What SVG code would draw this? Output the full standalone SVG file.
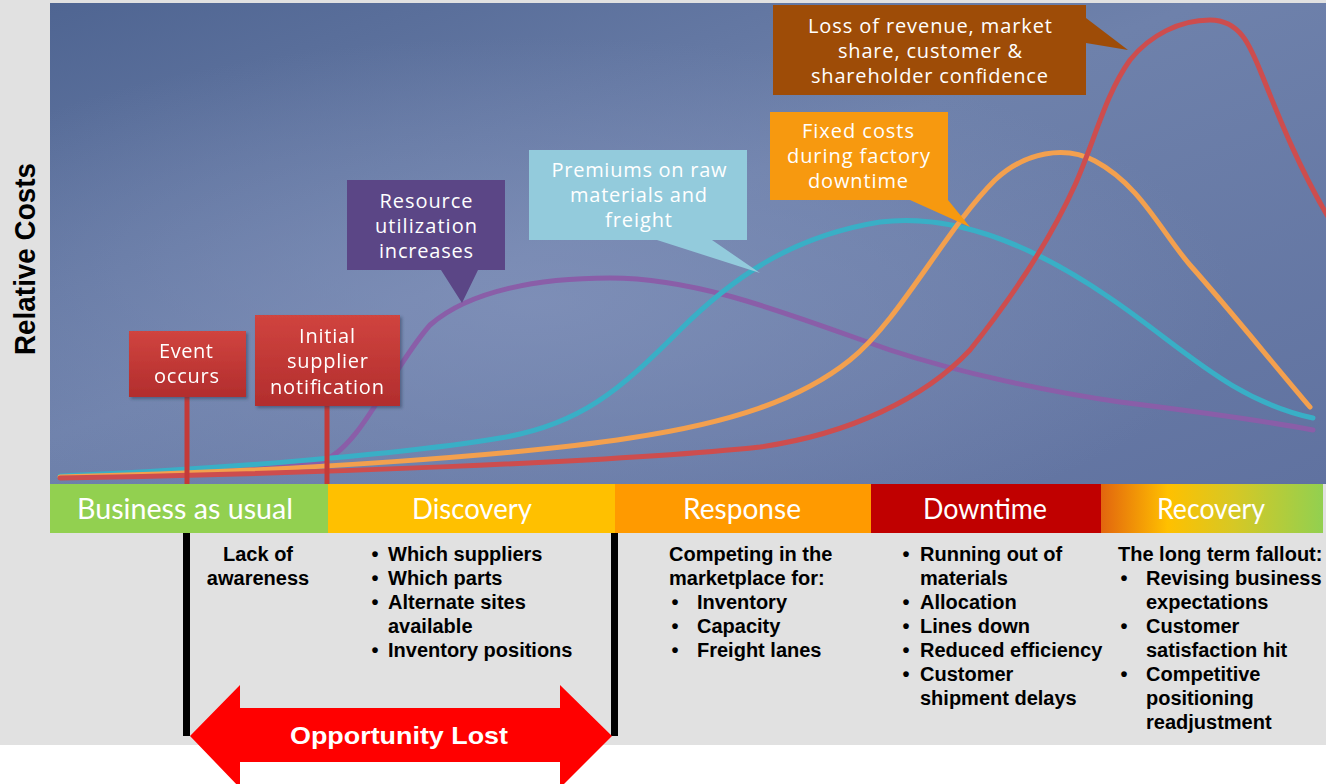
<svg xmlns="http://www.w3.org/2000/svg" width="1326" height="784" viewBox="0 0 1326 784">
<defs>
<style>
.callout{font-family:"Open Sans","Liberation Sans",sans-serif;font-size:20px;fill:#ffffff;text-anchor:middle}
.phase{font-family:Lato,"Open Sans","Liberation Sans",sans-serif;font-size:28px;fill:#ffffff;text-anchor:middle}
.body{font-family:"Liberation Sans",Arial,sans-serif;font-size:20px;font-weight:bold;fill:#000000}
.mid{text-anchor:middle}
.curve{fill:none;stroke-width:5;stroke-linecap:round}
.pole{stroke:#c43a38;stroke-width:5}
</style>
<linearGradient id="bgLin" x1="0" y1="0" x2="1" y2="1">
<stop offset="0" stop-color="#4f6592"/>
<stop offset="0.45" stop-color="#6e81ab"/>
<stop offset="1" stop-color="#6072a0"/>
</linearGradient>
<radialGradient id="bgGlow" cx="0.38" cy="0.62" r="0.55">
<stop offset="0" stop-color="#8494bc" stop-opacity="0.7"/>
<stop offset="1" stop-color="#8494bc" stop-opacity="0"/>
</radialGradient>
<linearGradient id="redBox" x1="0" y1="0" x2="0" y2="1">
<stop offset="0" stop-color="#d0443f"/>
<stop offset="1" stop-color="#b22d2d"/>
</linearGradient>
<linearGradient id="recov" x1="0" y1="0" x2="1" y2="0">
<stop offset="0" stop-color="#e2650e"/>
<stop offset="0.3" stop-color="#ffc000"/>
<stop offset="0.6" stop-color="#d6c825"/>
<stop offset="1" stop-color="#92d050"/>
</linearGradient>
<clipPath id="chartClip"><rect x="50" y="3" width="1276" height="481"/></clipPath>
<filter id="shadow" x="-10%" y="-10%" width="130%" height="130%">
<feDropShadow dx="2" dy="2" stdDeviation="1.5" flood-color="#203050" flood-opacity="0.45"/>
</filter>
</defs>

<rect x="0" y="0" width="1326" height="784" fill="#ffffff"/>
<rect x="0" y="0" width="1326" height="745" fill="#e1e1e1"/>

<g id="chart-background">
<rect x="50" y="3" width="1276" height="481" fill="url(#bgLin)"/>
<rect x="50" y="3" width="1276" height="481" fill="url(#bgGlow)"/>
</g>

<text transform="translate(35,259) rotate(-90)" font-family="'Liberation Sans',Arial,sans-serif" font-size="29" font-weight="bold" fill="#000" text-anchor="middle" textLength="192" lengthAdjust="spacingAndGlyphs">Relative Costs</text>

<g id="curves" clip-path="url(#chartClip)">
<path class="curve" stroke="#8a5ea8" d="M60,476 C200,472 290,470 320,462 C360,450 390,370 430,325 C470,290 540,278 610,278 C700,278 790,315 890,350 C960,373 1050,392 1120,402 C1200,412 1260,420 1313,430"/>
<path class="curve" stroke="#39afc6" d="M60,476 C200,470 400,455 500,438 C580,425 620,390 680,330 C740,270 800,235 880,222 C960,212 1040,250 1110,298 C1180,345 1230,400 1313,418"/>
<path class="curve" stroke="#f3a04e" d="M60,477 C300,471 520,455 630,438 C730,423 800,400 850,360 C900,320 945,230 995,180 C1025,152 1065,145 1095,161 C1140,185 1160,230 1190,265 C1230,310 1270,360 1310,407"/>
<path class="curve" stroke="#cd4d4e" d="M60,478 C300,474 620,462 760,447 C850,434 925,398 970,350 C1010,300 1050,240 1075,185 C1095,140 1105,95 1130,60 C1150,35 1180,20 1210,20 C1240,20 1250,45 1262,75 C1280,120 1300,170 1330,220"/>
</g>

<g id="connectors">
<line class="pole" x1="187" y1="396" x2="187" y2="486"/>
<line class="pole" x1="327" y1="405" x2="327" y2="486"/>
</g>

<g id="node-event" filter="url(#shadow)">
<rect x="129" y="331" width="117" height="66" fill="url(#redBox)"/>
<text class="callout" x="186" y="358" textLength="54">Event</text>
<text class="callout" x="186.5" y="383" textLength="65">occurs</text>
</g>

<g id="node-initial" filter="url(#shadow)">
<rect x="255" y="315" width="145" height="91" fill="url(#redBox)"/>
<text class="callout" x="327" y="343" textLength="56">Initial</text>
<text class="callout" x="327.5" y="368" textLength="81">supplier</text>
<text class="callout" x="327" y="394" textLength="114">notification</text>
</g>

<g id="node-resource">
<polygon points="347,180 505,180 505,270 478,270 462,303 441,270 347,270" fill="#5b4686"/>
<text class="callout" x="426" y="208" textLength="93">Resource</text>
<text class="callout" x="426" y="233" textLength="102">utilization</text>
<text class="callout" x="426" y="258" textLength="94">increases</text>
</g>

<g id="node-premiums">
<polygon points="529,150 747,150 747,240 712,240 760,273 657,240 529,240" fill="#93cbdc"/>
<text class="callout" x="639" y="177" textLength="175">Premiums on raw</text>
<text class="callout" x="638.5" y="202" textLength="137">materials and</text>
<text class="callout" x="638.5" y="227" textLength="67">freight</text>
</g>

<g id="node-fixed">
<polygon points="770,112 948,112 948,200 970,227 910,200 770,200" fill="#f7990f"/>
<text class="callout" x="858" y="138" textLength="112">Fixed costs</text>
<text class="callout" x="858.5" y="163" textLength="143">during factory</text>
<text class="callout" x="858" y="188" textLength="100">downtime</text>
</g>

<g id="node-loss">
<polygon points="773,5 1086,5 1086,18 1128,50 1086,43 1086,95 773,95" fill="#9e4c07"/>
<text class="callout" x="930" y="33" textLength="244">Loss of revenue, market</text>
<text class="callout" x="930" y="58" textLength="184">share, customer &amp;</text>
<text class="callout" x="929.5" y="83" textLength="237">shareholder confidence</text>
</g>

<g id="phase-bar">
<g id="phase-business">
<rect x="50" y="484" width="278" height="49" fill="#92d050"/>
<text class="phase" x="185" y="519" textLength="216" lengthAdjust="spacingAndGlyphs">Business as usual</text>
</g>
<g id="phase-discovery">
<rect x="328" y="484" width="287" height="49" fill="#ffc000"/>
<text class="phase" x="472" y="519" textLength="120" lengthAdjust="spacingAndGlyphs">Discovery</text>
</g>
<g id="phase-response">
<rect x="615" y="484" width="256" height="49" fill="#ff9a00"/>
<text class="phase" x="742" y="519" textLength="118" lengthAdjust="spacingAndGlyphs">Response</text>
</g>
<g id="phase-downtime">
<rect x="871" y="484" width="230" height="49" fill="#c00000"/>
<text class="phase" x="985" y="519" textLength="124" lengthAdjust="spacingAndGlyphs">Downtime</text>
</g>
<g id="phase-recovery">
<rect x="1101" y="484" width="222" height="49" fill="url(#recov)"/>
<text class="phase" x="1211" y="519" textLength="108" lengthAdjust="spacingAndGlyphs">Recovery</text>
</g>
</g>

<g id="brackets">
<rect x="183" y="533" width="7" height="203" fill="#000"/>
<rect x="611" y="533" width="7" height="203" fill="#000"/>
</g>

<g id="text-business">
<text class="body mid" x="258" y="561">Lack of</text>
<text class="body mid" x="258" y="585">awareness</text>
</g>

<g id="text-discovery">
<text class="body mid" x="375" y="561">•</text><text class="body" x="388" y="561">Which suppliers</text>
<text class="body mid" x="375" y="585">•</text><text class="body" x="388" y="585">Which parts</text>
<text class="body mid" x="375" y="609">•</text><text class="body" x="388" y="609">Alternate sites</text>
<text class="body" x="388" y="633">available</text>
<text class="body mid" x="375" y="657">•</text><text class="body" x="388" y="657">Inventory positions</text>
</g>

<g id="text-response">
<text class="body" x="669" y="561">Competing in the</text>
<text class="body" x="669" y="585">marketplace for:</text>
<text class="body mid" x="675" y="609">•</text><text class="body" x="697" y="609">Inventory</text>
<text class="body mid" x="675" y="633">•</text><text class="body" x="697" y="633">Capacity</text>
<text class="body mid" x="675" y="657">•</text><text class="body" x="697" y="657">Freight lanes</text>
</g>

<g id="text-downtime">
<text class="body mid" x="906" y="561">•</text><text class="body" x="920" y="561">Running out of</text>
<text class="body" x="920" y="585">materials</text>
<text class="body mid" x="906" y="609">•</text><text class="body" x="920" y="609">Allocation</text>
<text class="body mid" x="906" y="633">•</text><text class="body" x="920" y="633">Lines down</text>
<text class="body mid" x="906" y="657">•</text><text class="body" x="920" y="657">Reduced efficiency</text>
<text class="body mid" x="906" y="681">•</text><text class="body" x="920" y="681">Customer</text>
<text class="body" x="920" y="705">shipment delays</text>
</g>

<g id="text-recovery">
<text class="body" x="1118" y="561">The long term fallout:</text>
<text class="body mid" x="1124" y="585">•</text><text class="body" x="1146" y="585">Revising business</text>
<text class="body" x="1146" y="609">expectations</text>
<text class="body mid" x="1124" y="633">•</text><text class="body" x="1146" y="633">Customer</text>
<text class="body" x="1146" y="657">satisfaction hit</text>
<text class="body mid" x="1124" y="681">•</text><text class="body" x="1146" y="681">Competitive</text>
<text class="body" x="1146" y="705">positioning</text>
<text class="body" x="1146" y="729">readjustment</text>
</g>

<g id="opportunity-lost">
<polygon points="190,736 240,685 240,708 560,708 560,685 612,736 560,788 560,762 240,762 240,788" fill="#ff0000"/>
<text x="399" y="744" font-family="'Liberation Sans',Arial,sans-serif" font-size="24" font-weight="bold" fill="#ffffff" text-anchor="middle" textLength="218" lengthAdjust="spacingAndGlyphs">Opportunity Lost</text>
</g>
</svg>
